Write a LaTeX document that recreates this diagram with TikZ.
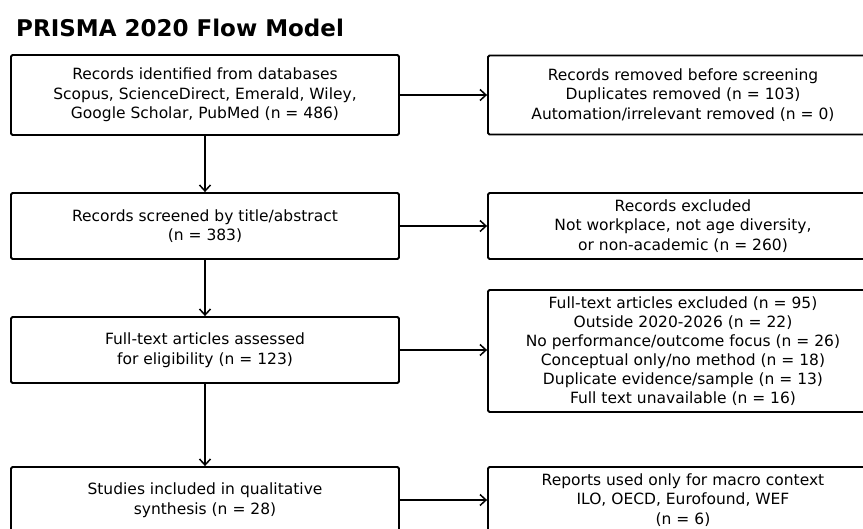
\documentclass[tikz,border=0pt]{standalone}
\usepackage{fontspec}
\setmainfont{DejaVu Sans}
\usetikzlibrary{arrows.meta}

\tikzset{
  box/.style={draw,line width=1.8pt,rounded corners=1.5pt,align=center,
    inner sep=0pt,minimum width=388pt,
    font=\fontsize{15.5}{19.5}\selectfont},
  flow/.style={line width=1.5pt,-{Straight Barb[length=6pt,width=11pt,line width=1.5pt]}}
}

\begin{document}
\begin{tikzpicture}[x=1pt,y=-1pt]
  \clip (0,0) rectangle (863,528);
  \node[anchor=base west,inner sep=0pt,font=\fontsize{23}{27}\bfseries\selectfont] (title) at (16,36) {PRISMA 2020 Flow Model};
  % left column
  \node[box,minimum height=80pt] (ident) at (205,95) {Records identified from databases\\Scopus, ScienceDirect, Emerald, Wiley,\\Google Scholar, PubMed (n = 486)};
  \node[box,minimum height=66pt] (screen) at (205,226) {Records screened by title/abstract\\(n = 383)};
  \node[box,minimum height=66pt] (assess) at (205,350) {Full-text articles assessed\\for eligibility (n = 123)};
  \node[box,minimum height=66pt] (incl) at (205,500) {Studies included in qualitative\\synthesis (n = 28)};
  % right column
  \node[box,minimum width=390pt,minimum height=79pt] (removed) at (683,95) {Records removed before screening\\Duplicates removed (n = 103)\\Automation/irrelevant removed (n = 0)};
  \node[box,minimum width=390pt,minimum height=66pt] (excl) at (683,226) {Records excluded\\Not workplace, not age diversity,\\or non-academic (n = 260)};
  \node[box,minimum width=390pt,minimum height=122pt,font=\fontsize{15.5}{19}\selectfont] (ftexcl) at (683,351) {Full-text articles excluded (n = 95)\\Outside 2020-2026 (n = 22)\\No performance/outcome focus (n = 26)\\Conceptual only/no method (n = 18)\\Duplicate evidence/sample (n = 13)\\Full text unavailable (n = 16)};
  \node[box,minimum width=390pt,minimum height=66pt] (macro) at (683,500) {Reports used only for macro context\\ILO, OECD, Eurofound, WEF\\(n = 6)};
  % connectors
  \draw[flow] (ident) -- (screen);
  \draw[flow] (screen) -- (assess);
  \draw[flow] (assess) -- (incl);
  \draw[flow] (ident) -- (removed);
  \draw[flow] (screen) -- (excl);
  \draw[flow] (assess.east) -- (assess.east -| ftexcl.west);
  \draw[flow] (incl) -- (macro);
\end{tikzpicture}
\end{document}
